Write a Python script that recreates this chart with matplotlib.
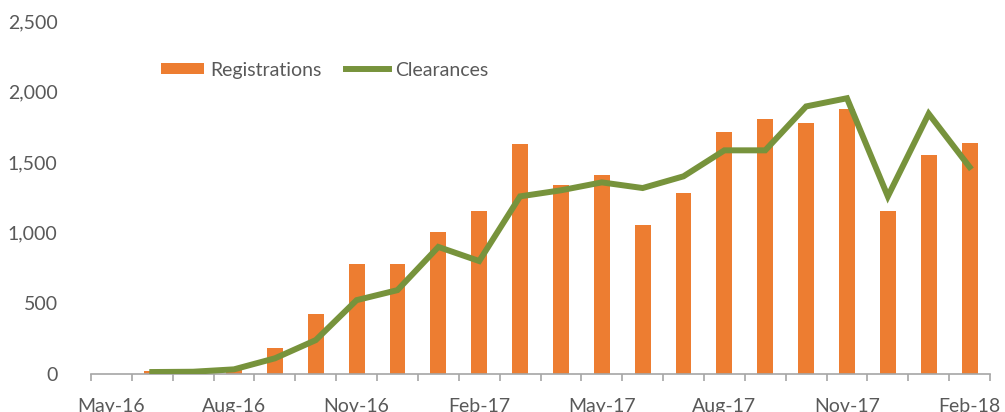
from matplotlib import pyplot as plt
import numpy as np

months = ['May-16', 'Jun-16', 'Jul-16', 'Aug-16', 'Sep-16', 'Oct-16', 'Nov-16', 'Dec-16',
          'Jan-17', 'Feb-17', 'Mar-17', 'Apr-17', 'May-17', 'Jun-17', 'Jul-17', 'Aug-17',
          'Sep-17', 'Oct-17', 'Nov-17', 'Dec-17', 'Jan-18', 'Feb-18']
registrations = [0, 23, 0, 52, 182, 424, 778, 778, 1004, 1157, 1626, 1341, 1412, 1058,
                 1285, 1711, 1808, 1779, 1878, 1155, 1553, 1638]
clearances = [np.nan, 14, 16, 33, 111, 240, 523, 594, 900, 800, 1258, 1301, 1357, 1317,
              1400, 1584, 1584, 1895, 1953, 1258, 1843, 1466]

plt.rcParams['font.family'] = ['Lato', 'DejaVu Sans']
grey = '#595959'

fig = plt.figure(figsize=(10.05, 4.12), dpi=100)
ax = fig.add_axes([91/1005, 38/412, 899/1005, 353/412])

x = np.arange(len(months))
bars = ax.bar(x, registrations, width=0.39, color='#ED7D31', label='Registrations', zorder=2)
line, = ax.plot(x, clearances, color='#77933C', lw=4.3, label='Clearances', zorder=3,
                solid_joinstyle='miter')

ax.set_xlim(-0.5, len(months) - 0.5)
ax.set_ylim(0, 2500)
ax.set_yticks(np.arange(0, 2501, 500))
ax.set_yticklabels([f'{v:,}' for v in range(0, 2501, 500)])
ax.set_xticks(x[::3])
ax.set_xticklabels(months[::3])
ax.set_xticks(np.arange(-0.5, len(months)), minor=True)

for s in ['top', 'right', 'left']:
    ax.spines[s].set_visible(False)
ax.spines['bottom'].set_color('#A6A6A6')
ax.spines['bottom'].set_linewidth(1.2)
ax.tick_params(axis='y', length=0, pad=24, labelsize=14, labelcolor=grey)
ax.tick_params(axis='x', which='major', length=0, pad=17, labelsize=14, labelcolor=grey)
ax.tick_params(axis='x', which='minor', length=5, color='#A6A6A6', width=1.2)

ax.legend([bars, line], ['Registrations', 'Clearances'], loc='center',
          bbox_to_anchor=(0.26, 0.861), ncol=2, frameon=False,
          fontsize=14, labelcolor=grey, handlelength=2.2, handleheight=0.5,
          columnspacing=1.3, handletextpad=0.3)

fig.savefig('out.png', dpi=100)
